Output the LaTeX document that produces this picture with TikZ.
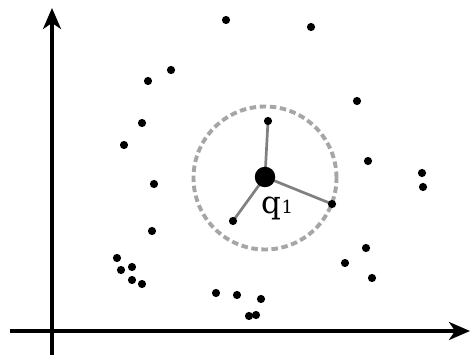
\documentclass[tikz,border=0pt]{standalone}
\usepackage{fontspec}
\setmainfont{DejaVu Serif}
\usetikzlibrary{arrows.meta}
\pgfdeclarelayer{back}
\pgfsetlayers{back,main}
\tikzset{
  pt/.style={circle, fill=black, inner sep=0pt, minimum size=8.2pt},
  bigpt/.style={circle, fill=black, inner sep=0pt, minimum size=20.5pt},
  axis/.style={line width=3.1pt, -{Stealth[length=21pt, width=18pt, inset=6pt]}},
  link/.style={draw=black!50, line width=2.7pt},
  ring/.style={draw=black!35, line width=3.9pt, dash pattern=on 6.5pt off 3.6pt},
}
\begin{document}
\begin{tikzpicture}[x=1pt, y=-1pt]
\useasboundingbox (0,0) rectangle (471,355);
% axes
\coordinate (xs) at (10,331);
\coordinate (xe) at (470,331);
\coordinate (ys) at (52,356);
\coordinate (ye) at (52,8);
\draw[axis] (xs) -- (xe);
\draw[axis] (ys) -- (ye);
% dashed ring
\begin{pgfonlayer}{back}
\node[ring, circle, minimum size=143pt, inner sep=0pt] (ringc) at (265,178) {};
\end{pgfonlayer}
% query point and neighbours
\node[bigpt] (q) at (265,177) {};
\node[pt] (n1) at (268,121) {};
\node[pt] (n2) at (332,204) {};
\node[pt] (n3) at (233,221) {};
\begin{pgfonlayer}{back}
\draw[link] (q.center) -- (n1.center);
\draw[link] (q.center) -- (n2.center);
\draw[link] (q.center) -- (n3.center);
\end{pgfonlayer}
\node[anchor=base west, inner sep=0pt] (lab) at (261,214) {\fontsize{31}{33}\selectfont q\kern0.5pt\fontsize{18}{20}\selectfont 1};
% other points
\foreach \x/\y [count=\i] in {226/20, 311/27, 171/70, 148/81, 357/101, 142/123, 124/145,
  368/161, 422/173, 423/187, 154/184, 152/231, 366/248, 345/263, 372/278,
  117/258, 121/270, 132/267, 132/280, 142/284, 216/293, 237/295, 261/299, 249/316, 256/315}
  \node[pt] (p\i) at (\x,\y) {};
\end{tikzpicture}
\end{document}
